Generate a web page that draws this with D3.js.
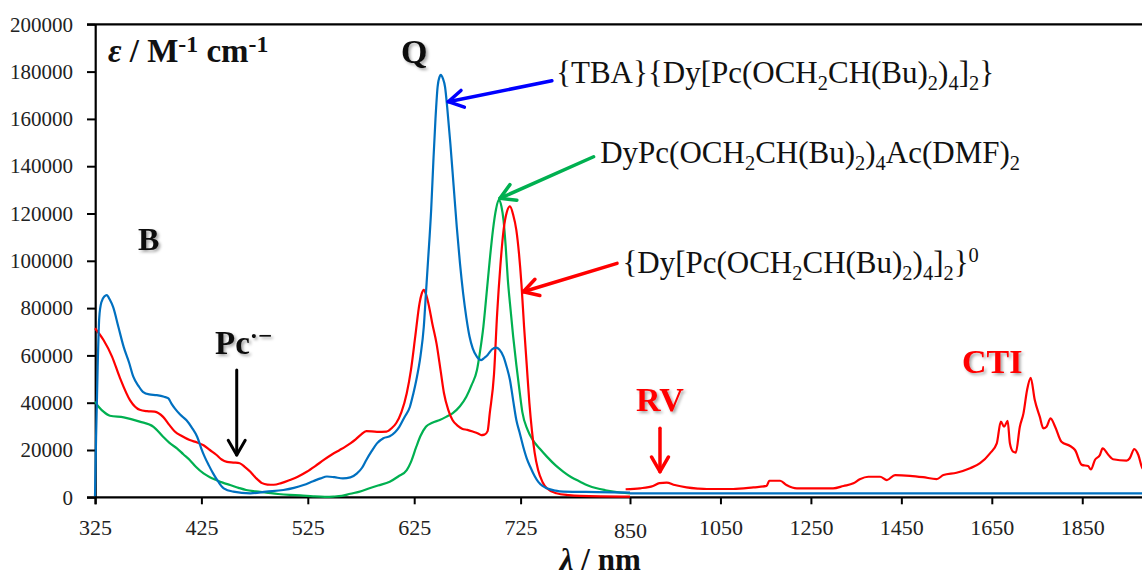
<!DOCTYPE html>
<html><head><meta charset="utf-8">
<script src="https://cdn.jsdelivr.net/npm/d3@7/dist/d3.min.js"></script>
<style>body{margin:0;background:#fff}svg{display:block}</style>
</head><body>
<svg id="c" width="1142" height="576"></svg>
<script>
// ---------- data ----------
const xTicksUV = [325, 425, 525, 625, 725];
const xTicksNIR = [850, 1050, 1250, 1450, 1650, 1850];
const yTicks = [0, 20000, 40000, 60000, 80000, 100000, 120000, 140000, 160000, 180000, 200000];

// {TBA}{Dy[Pc(OCH2CH(Bu)2)4]2}  (blue)
const blueUV = [[325,500],[326,25000],[327.5,55000],[329,76000],[331,82500],[334,85000],[336,85500],[339,83500],[342,80500],[347,72000],[352,63500],[357,57000],[361,51000],[366,47000],[370,44600],[376,43500],[383,43200],[390,42500],[394,41800],[397,39500],[400,37600],[405,35000],[411,32600],[416,29500],[421,25600],[425,20500],[428,17200],[432,13500],[436,10100],[441,6500],[446,3800],[455,2400],[471,1700],[486,2400],[502,3100],[512,4000],[521,5200],[530,6800],[537,8000],[543,8800],[550,8500],[558,8000],[565,8400],[571,10000],[576,12500],[580,15800],[585,19500],[590,22800],[596,25000],[602,25800],[607,27500],[611,29800],[616,34000],[621,38300],[624,43500],[627,49600],[631,60000],[634,72000],[636,86000],[638,100000],[641,122000],[643,142000],[645,160000],[647,173500],[649,178000],[650,178600],[652,177000],[654,173500],[656,165000],[659,149500],[662,132000],[665,114400],[668,99000],[671,86200],[674,76000],[677,68000],[680,63000],[684,59400],[688,58000],[691,59000],[694,60200],[698,62500],[702,63300],[705,62500],[709,59400],[712,55000],[715,49600],[718,41000],[721,32700],[724,27500],[728,21400],[732,16500],[736,12900],[741,9000],[745,6600],[750,4800],[755,3800],[765,2800],[774,2400],[812,2200],[850,2000]];
const blueNIR = [[850,1700],[2000,1700]];

// DyPc(OCH2CH(Bu)2)4Ac(DMF)2  (green)
const greenUV = [[325,40400],[329,38000],[333,36200],[339,34500],[352,33800],[367,32000],[380,29800],[389,25600],[395,23000],[402,20700],[408,18200],[414,15800],[420,12800],[427,10100],[433,8500],[439,7300],[445,6200],[452,5200],[460,4000],[467,3100],[476,2500],[486,2000],[497,1400],[508,1000],[518,800],[530,400],[541,200],[549,300],[557,600],[565,1500],[573,2300],[583,3800],[591,5000],[602,6600],[610,8800],[618,11500],[622,15000],[627,21400],[631,26000],[636,29800],[642,31500],[649,32700],[655,34000],[661,35500],[668,38500],[674,42500],[679,47500],[684,53800],[687,62000],[690,72100],[693,86000],[696,100300],[699,113000],[702,122000],[704.5,125800],[707,123000],[709,117000],[711,106000],[713,92000],[715,82000],[718,68000],[721,56000],[724,45000],[727,36000],[733,28500],[739,24200],[747,20500],[755,17200],[765,13500],[774,10800],[783,8500],[793,6600],[802,5000],[812,3800],[822,3000],[831,2400],[840,2000],[850,1700]];

// {Dy[Pc(OCH2CH(Bu)2)4]2}0  (red)
const redUV = [[325,71500],[333,66500],[341,59500],[348,51000],[358,41000],[367,37000],[374,36400],[381,36200],[389,34000],[395,30500],[400,27800],[407,25800],[414,24200],[421,23200],[427,22000],[433,20000],[439,18000],[444,16000],[449,15000],[455,14700],[461,14400],[466,12800],[471,10800],[476,8300],[482,6000],[487,5400],[493,5300],[500,6000],[508,7300],[516,8800],[524,10800],[532,13200],[540,15800],[548,18200],[555,20000],[560,21300],[565,22800],[570,24500],[575,26500],[580,28000],[590,27700],[599,27800],[604,29300],[608,31300],[613,36000],[618,44000],[622,54000],[626,68000],[630,82000],[632,86000],[634,87700],[636,86000],[639,80600],[642,73500],[646,65000],[650,53000],[653,44000],[657,37000],[661,32700],[666,30200],[670,29000],[675,28500],[680,27800],[685,27000],[688,26300],[691,26500],[694,28000],[696,35500],[700,52000],[703,78000],[706,98000],[709,113000],[712,120500],[715,123000],[718,119500],[721,113000],[723.5,103000],[726,90000],[729,72000],[732,56000],[735,40000],[738,28000],[741,19000],[745,11500],[750,6500],[755,3800],[766,1700],[780,900],[793,600],[850,300]];
const redNIR = [[845,3400],[872,3800],[901,4800],[915,6000],[931,6200],[949,5200],[975,4200],[1000,3700],[1020,3500],[1078,3500],[1123,4200],[1152,4800],[1158,7000],[1182,7000],[1196,5200],[1219,3800],[1255,3800],[1299,3800],[1322,4800],[1344,5900],[1358,7600],[1377,8700],[1403,8700],[1418,7300],[1436,9400],[1469,9100],[1498,8500],[1528,7700],[1543,9400],[1572,10400],[1602,12300],[1624,14400],[1646,18600],[1661,22800],[1670,32000],[1677,29850],[1685,32300],[1690,22800],[1697,19300],[1703,18900],[1712,29850],[1720,35500],[1728,45400],[1736,50500],[1745,41100],[1756,34100],[1764,29150],[1771,29850],[1780,33400],[1790,29850],[1804,23500],[1823,21700],[1834,20000],[1849,13700],[1863,13200],[1869,11800],[1878,15800],[1889,17900],[1895,20700],[1908,17900],[1918,16100],[1948,15500],[1955,16500],[1965,20400],[1974,17900],[1982,12700],[1990,11000]];

// ---------- chart ----------
const W = 1142, H = 576;
const svg = d3.select("#c");
const x = d3.scaleLinear().domain([325, 725, 850, 2000]).range([95, 520.6, 630, 1150.1]);
const y = d3.scaleLinear().domain([0, 200000]).range([497.3, 24.3]);
const FONT = "'Liberation Serif', 'Times New Roman', serif";

const defs = svg.append("defs");
const f = defs.append("filter").attr("id","sh").attr("x","-20%").attr("y","-20%").attr("width","150%").attr("height","150%");
f.append("feDropShadow").attr("dx",2).attr("dy",2).attr("stdDeviation",1.6).attr("flood-color","#000").attr("flood-opacity",0.35);

// y axis
const ya = svg.append("g").attr("transform", `translate(${x(325)},0)`)
  .call(d3.axisLeft(y).tickValues(yTicks).tickSize(8).tickPadding(14).tickFormat(d3.format("d")));
ya.select(".domain").remove();
ya.selectAll(".tick line").attr("stroke","#000").attr("stroke-width",2);
ya.selectAll(".tick text").attr("font-family",FONT).attr("font-size",21).attr("fill","#222");

// x axis
const xa = svg.append("g").attr("transform", `translate(0,${y(0)})`)
  .call(d3.axisBottom(x).tickValues(xTicksUV.concat(xTicksNIR)).tickSize(7).tickPadding(15).tickFormat(d3.format("d")));
xa.select(".domain").remove();
xa.selectAll(".tick line").attr("stroke","#000").attr("stroke-width",2);
xa.selectAll(".tick text").attr("font-family",FONT).attr("font-size",22).attr("fill","#222")
  .attr("transform", d => d === 850 ? "translate(0,3)" : null);

// frame lines
svg.append("line").attr("x1",x(325)-8).attr("x2",W).attr("y1",y(0)).attr("y2",y(0)).attr("stroke","#000").attr("stroke-width",2.2);
svg.append("line").attr("x1",x(325)-8).attr("x2",W).attr("y1",y(200000)).attr("y2",y(200000)).attr("stroke","#000").attr("stroke-width",2.2);
svg.append("line").attr("x1",x(325)+0.7).attr("x2",x(325)+0.7).attr("y1",y(200000)).attr("y2",y(0)+7).attr("stroke","#000").attr("stroke-width",2.2);

// series
const line = d3.line().x(d => x(d[0])).y(d => y(d[1])).curve(d3.curveMonotoneX);
const series = [
  {d: greenUV, c: "#00B050"},
  {d: redUV, c: "#FF0000"},
  {d: blueUV, c: "#0070C0"},
  {d: redNIR, c: "#FF0000"},
  {d: blueNIR, c: "#0070C0"}
];
svg.append("g").selectAll("path").data(series).join("path")
  .attr("d", s => line(s.d)).attr("fill","none").attr("stroke", s => s.c)
  .attr("stroke-width", 2.2).attr("stroke-linejoin","round");

// ---------- annotations ----------
function arrow(from, to, color, w) {
  const x1 = x(from[0]), y1 = y(from[1]), x2 = x(to[0]), y2 = y(to[1]);
  const a = Math.atan2(y1 - y2, x1 - x2), L = 17, th = Math.PI / 6;
  const g = svg.append("g").attr("stroke", color).attr("stroke-width", w).attr("fill","none")
    .attr("stroke-linecap","round").attr("stroke-linejoin","round");
  g.append("line").attr("x1",x1).attr("y1",y1).attr("x2",x2).attr("y2",y2);
  g.append("polyline").attr("points", [
    [x2 + L*Math.cos(a+th), y2 + L*Math.sin(a+th)], [x2, y2], [x2 + L*Math.cos(a-th), y2 + L*Math.sin(a-th)]
  ].map(p => p.join(",")).join(" "));
}
arrow([760.7,176150],[657,167270],"#0000FF",3.5);
arrow([808.4,144000],[705.6,126400],"#00B050",3.5);
arrow([835.2,98940],[728.1,86930],"#FF0000",3.5);
arrow([458.2,53830],[458.2,17890],"#000",3);
arrow([916.3,29180],[916.3,10820],"#FF0000",3.5);

function rich(pos, parts, size, opts) {
  opts = opts || {};
  const t = svg.append("text").attr("x", x(pos[0])).attr("y", y(pos[1]))
    .attr("font-family", FONT).attr("font-size", size).attr("fill", opts.fill || "#111")
    .attr("font-weight", opts.weight || "normal");
  if (opts.anchor) t.attr("text-anchor", opts.anchor);
  if (opts.filter) t.attr("filter", opts.filter);
  let off = 0;
  parts.forEach(p => {
    const [txt, kind, style] = p;
    let target = 0, fs = size;
    if (kind === "sub") { target = size * 0.24; fs = size * 0.66; }
    if (kind === "sup") { target = -size * (opts.supUp || 0.36); fs = size * (opts.supSize || 0.66); }
    const ts = t.append("tspan").text(txt).attr("font-size", fs).attr("dy", target - off);
    if (style === "i") ts.attr("font-style","italic");
    off = target;
  });
  return t;
}
const N = null;
rich([765.6,175200], [["{TBA}{Dy[Pc(OCH",N],["2","sub"],["CH(Bu)",N],["2","sub"],[")",N],["4","sub"],["]",N],["2","sub"],["}",N]], 31);
rich([816,141350], [["DyPc(OCH",N],["2","sub"],["CH(Bu)",N],["2","sub"],[")",N],["4","sub"],["Ac(DMF)",N],["2","sub"]], 31);
rich([841.3,94840], [["{Dy[Pc(OCH",N],["2","sub"],["CH(Bu)",N],["2","sub"],[")",N],["4","sub"],["]",N],["2","sub"],["}",N],["0","sup"]], 31);

rich([337.2,184100], [["\u03B5",N,"i"],[" / M",N],["-1","sup"],[" cm",N],["-1","sup"]], 33, {weight:"bold", supSize:0.72, supUp:0.3});
rich([612.6,183640], [["Q",N]], 34, {weight:"bold", filter:"url(#sh)"});
rich([365.4,104570], [["B",N]], 32, {weight:"bold", filter:"url(#sh)"});
rich([437.8,60600], [["Pc",N],["\u00B7\u2212","sup"]], 33, {weight:"bold", filter:"url(#sh)", supSize:0.75, supUp:0.3});
rich([863.3,36490], [["RV",N]], 34, {weight:"bold", fill:"#FF0000", filter:"url(#sh)"});
rich([1584,52600], [["CTI",N]], 34, {weight:"bold", fill:"#FF0000", filter:"url(#sh)"});

// x-axis title
svg.append("text").attr("x", x(816)).attr("y", y(0) + 73).attr("text-anchor","middle")
  .attr("font-family", FONT).attr("font-size", 31).attr("font-weight","bold").attr("fill","#111")
  .call(t => { t.append("tspan").text("\u03BB").attr("font-style","italic"); t.append("tspan").text(" / nm"); });
</script>
</body></html>
